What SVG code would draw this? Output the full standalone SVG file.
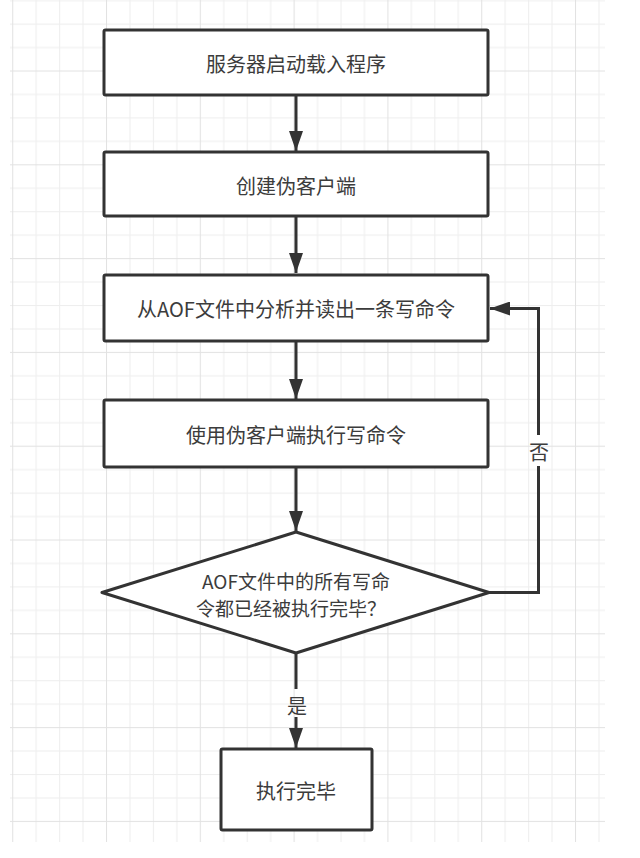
<svg xmlns="http://www.w3.org/2000/svg" width="640" height="858" viewBox="0 0 640 858">
  <style>
    .box { fill: #ffffff; stroke: #333333; stroke-width: 3; stroke-linejoin: round; }
    .lbl { font-family: "Noto Sans CJK SC", "Noto Sans", sans-serif; font-size: 20px; fill: #3c3c3c; text-anchor: middle; dominant-baseline: central; }
    .small { font-size: 19px; }
    .edge { fill: none; stroke: #333333; stroke-width: 3; stroke-linejoin: miter; }
  </style>
  <defs>
    <marker id="arr" markerUnits="userSpaceOnUse" markerWidth="20" markerHeight="14" refX="20" refY="7" orient="auto">
      <path d="M0,0 L20,7 L0,14 z" fill="#333333"/>
    </marker>
    <pattern id="grid" patternUnits="userSpaceOnUse" x="12.2" y="-23.3" width="93.8" height="93.8">
      <rect x="0" y="0" width="93.8" height="93.8" fill="#ffffff"/>
      <rect x="23.45" y="0" width="1" height="93.8" fill="#eeeeee"/>
      <rect x="46.9" y="0" width="1" height="93.8" fill="#eeeeee"/>
      <rect x="70.35" y="0" width="1" height="93.8" fill="#eeeeee"/>
      <rect x="0" y="23.45" width="93.8" height="1" fill="#eeeeee"/>
      <rect x="0" y="46.9" width="93.8" height="1" fill="#eeeeee"/>
      <rect x="0" y="70.35" width="93.8" height="1" fill="#eeeeee"/>
      <rect x="0" y="0" width="1" height="93.8" fill="#e2e2e2"/>
      <rect x="0" y="0" width="93.8" height="1" fill="#e2e2e2"/>
    </pattern>
  </defs>
  <rect x="0" y="0" width="640" height="858" fill="#ffffff"/>
  <rect x="10" y="0" width="595" height="842" fill="url(#grid)"/>

  <g id="connectors">
    <line class="edge" x1="296" y1="95" x2="296" y2="151" marker-end="url(#arr)"/>
    <line class="edge" x1="296" y1="216" x2="296" y2="273" marker-end="url(#arr)"/>
    <line class="edge" x1="296" y1="341" x2="296" y2="399" marker-end="url(#arr)"/>
    <line class="edge" x1="296" y1="467" x2="296" y2="531" marker-end="url(#arr)"/>
    <line class="edge" x1="296" y1="653" x2="296" y2="689"/>
    <line class="edge" x1="296" y1="717" x2="296" y2="748" marker-end="url(#arr)"/>
    <text class="lbl" x="297" y="705">是</text>
    <polyline class="edge" points="489,592.5 538.5,592.5 538.5,466"/>
    <polyline class="edge" points="538.5,435 538.5,308.5 490,308.5" marker-end="url(#arr)"/>
    <text class="lbl" x="539" y="451">否</text>
  </g>

  <g id="n1">
    <rect class="box" x="104" y="30" width="384" height="65" rx="1.5"/>
    <text class="lbl" x="296" y="63">服务器启动载入程序</text>
  </g>
  <g id="n2">
    <rect class="box" x="104" y="152" width="384" height="64" rx="1.5"/>
    <text class="lbl" x="296" y="185">创建伪客户端</text>
  </g>
  <g id="n3">
    <rect class="box" x="104" y="275" width="384" height="66" rx="1.5"/>
    <text class="lbl" x="296" y="308">从AOF文件中分析并读出一条写命令</text>
  </g>
  <g id="n4">
    <rect class="box" x="104" y="400" width="384" height="67" rx="1.5"/>
    <text class="lbl" x="296" y="434">使用伪客户端执行写命令</text>
  </g>
  <g id="n5">
    <polygon class="box" points="296,532 489,592.5 296,653 102,592.5"/>
    <text class="lbl small" x="296" y="580">AOF文件中的所有写命</text>
    <text class="lbl small" x="291" y="607">令都已经被执行完毕？</text>
  </g>
  <g id="n6">
    <rect class="box" x="221" y="749" width="151" height="81" rx="1.5"/>
    <text class="lbl" x="296" y="790">执行完毕</text>
  </g>
</svg>
